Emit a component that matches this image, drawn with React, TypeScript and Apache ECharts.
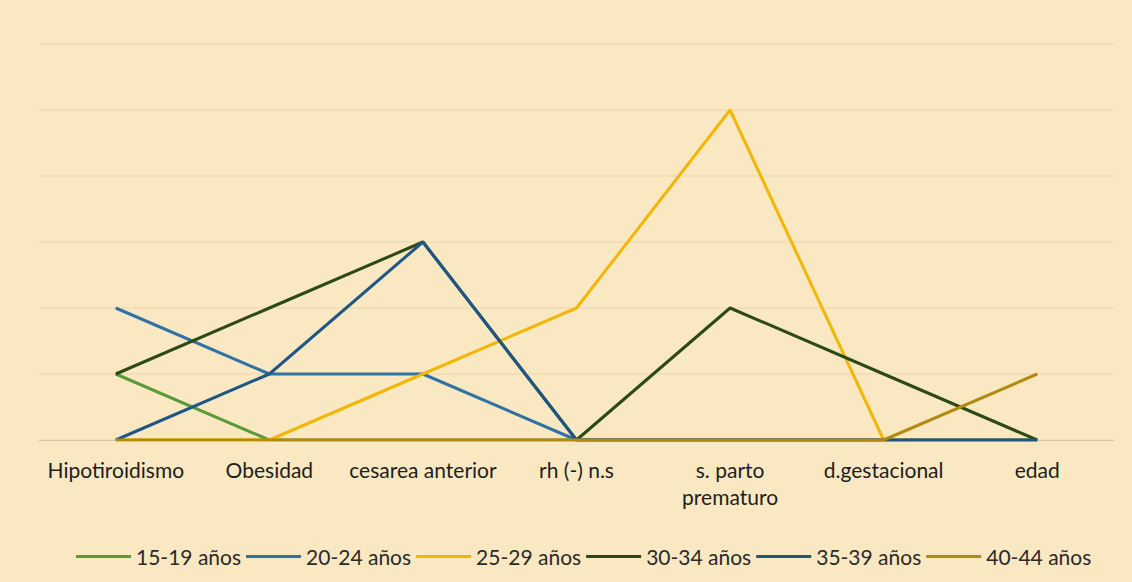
import React, { useEffect, useRef } from "react";
import * as echarts from "echarts";

const categories = [
  "Hipotiroidismo",
  "Obesidad",
  "cesarea anterior",
  "rh (-) n.s",
  "s. parto\nprematuro",
  "d.gestacional",
  "edad",
];

const seriesNames = ["15-19 años", "20-24 años", "25-29 años", "30-34 años", "35-39 años", "40-44 años"];
const s1519 = [1, 0, 0, 0, 0, 0, 0];
const s2024 = [2, 1, 1, 0, 0, 0, 0];
const s2529 = [0, 0, 1, 2, 5, 0, 0];
const s3034 = [1, 2, 3, 0, 2, 1, 0];
const s3539 = [0, 1, 3, 0, 0, 0, 0];
const s4044 = [0, 0, 0, 0, 0, 0, 1];
const seriesData = [s1519, s2024, s2529, s3034, s3539, s4044];
const colors = ["#5a9a38", "#2f72a6", "#f2b705", "#2d4a14", "#1f5686", "#b38a10"];

export default function App() {
  const ref = useRef<HTMLDivElement>(null);
  useEffect(() => {
    document.body.style.margin = "0";
    if (!ref.current) return;
    const chart = echarts.init(ref.current, null, { renderer: "svg" });
    chart.setOption({
      animation: false,
      backgroundColor: "#f9e8c1",
      textStyle: { fontFamily: "Lato" },
      grid: { left: 39, right: 18, top: 44, bottom: 142, containLabel: false },
      legend: {
        top: 541,
        left: 71,
        icon: "rect",
        itemWidth: 55,
        itemHeight: 3,
        itemGap: 5,
        textStyle: { fontSize: 21, color: "#2a2a2a", fontFamily: "Lato" },
        data: seriesNames,
      },
      xAxis: {
        type: "category",
        data: categories,
        boundaryGap: true,
        axisLine: { show: true, lineStyle: { color: "#d9c9a0" } },
        axisTick: { show: false },
        axisLabel: { fontSize: 21, color: "#1e1e1e", margin: 16, lineHeight: 27, interval: 0, fontFamily: "Lato" },
      },
      yAxis: {
        type: "value",
        min: 0,
        max: 6,
        interval: 1,
        axisLabel: { show: false },
        axisLine: { show: false },
        axisTick: { show: false },
        splitLine: { lineStyle: { color: "#eddcb3", width: 1.5 } },
      },
      series: seriesNames.map((name, i) => ({
        name,
        type: "line",
        data: seriesData[i],
        symbol: "none",
        lineStyle: { color: colors[i], width: 3 },
        itemStyle: { color: colors[i] },
      })),
    });
    return () => chart.dispose();
  }, []);
  return <div ref={ref} style={{ width: 1132, height: 582 }} />;
}
